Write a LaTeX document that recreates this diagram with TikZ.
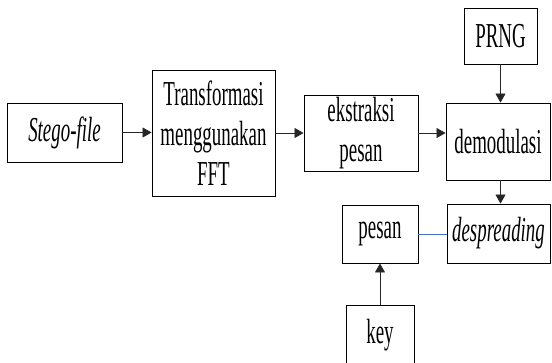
\documentclass[tikz,border=0pt]{standalone}
\usepackage{fontspec}
\setmainfont{Liberation Serif}[FakeStretch=0.54]
\usetikzlibrary{arrows.meta}
\definecolor{linkblue}{HTML}{4472C4}
\tikzset{
  blockbox/.style={draw=black, line width=0.9pt, inner sep=0pt, align=center,
    font=\fontsize{35}{40}\selectfont},
  arr/.style={draw=black!85, line width=0.8pt, -{Triangle[length=9pt,width=10pt]}},
  link/.style={draw=linkblue, line width=0.8pt}
}
\begin{document}
\begin{tikzpicture}[x=1pt, y=-1pt]
  \clip (0,0) rectangle (552,362);
  \fill[white] (0,0) rectangle (552,362);

  % processing blocks
  \node[blockbox, minimum width=115pt, minimum height=59pt] (stego) at (64.5,132.5) {\textit{Stego-file}};
  \node[blockbox, minimum width=123pt, minimum height=126pt] (trans) at (213.5,133) {Transformasi\\menggunakan\\FFT};
  \node[blockbox, minimum width=114pt, minimum height=76pt] (ekstr) at (361,133) {ekstraksi\\pesan};
  \node[blockbox, minimum width=104pt, minimum height=77pt] (demod) at (498,141.5) {demodulasi};
  \node[blockbox, minimum width=73pt, minimum height=56pt] (prng) at (500.5,36) {PRNG};
  \node[blockbox, minimum width=103pt, minimum height=59pt] (desp) at (498.5,233.5) {\textit{despreading}};
  \node[blockbox, minimum width=76pt, minimum height=58pt] (pesan) at (380,234) {pesan};
  \node[blockbox, minimum width=68pt, minimum height=60pt] (key) at (380,335) {key};

  % connectors
  \draw[arr] (stego.east) -- (stego.east -| trans.west);
  \draw[arr] (trans.east) -- (trans.east -| ekstr.west);
  \draw[arr] (ekstr.east) -- (ekstr.east -| demod.west);
  \draw[arr] (prng.south) -- (prng.south |- demod.north);
  \draw[arr] (prng.south |- demod.south) -- (prng.south |- desp.north);
  \draw[link] (pesan.east) -- (pesan.east -| desp.west);
  \draw[arr] (key.north) -- (pesan.south);
\end{tikzpicture}
\end{document}
